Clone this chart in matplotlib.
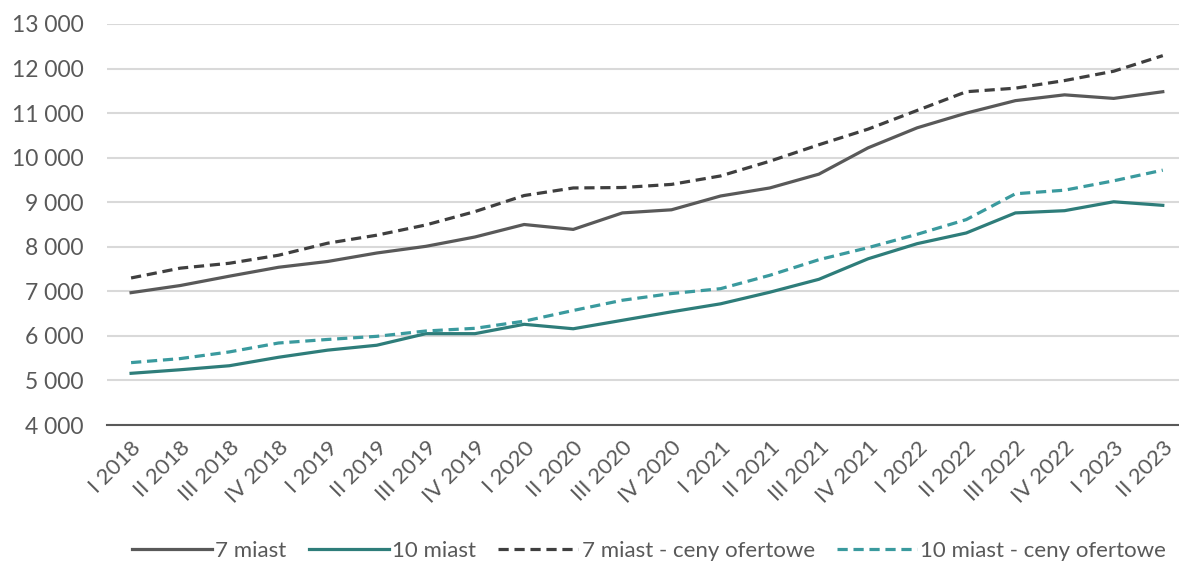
import matplotlib
matplotlib.use("Agg")
import matplotlib.pyplot as plt
from matplotlib.ticker import FuncFormatter

# quarters I 2018 .. II 2023
quarters = ["I 2018", "II 2018", "III 2018", "IV 2018",
            "I 2019", "II 2019", "III 2019", "IV 2019",
            "I 2020", "II 2020", "III 2020", "IV 2020",
            "I 2021", "II 2021", "III 2021", "IV 2021",
            "I 2022", "II 2022", "III 2022", "IV 2022",
            "I 2023", "II 2023"]

# average price per m2, PLN
miast7 = [6970, 7130, 7340, 7540, 7670, 7860, 8010, 8220, 8500, 8390, 8760,
          8830, 9140, 9320, 9630, 10220, 10670, 11000, 11280, 11410, 11330, 11480]
miast10 = [5160, 5240, 5330, 5520, 5680, 5790, 6050, 6050, 6260, 6160, 6350,
           6540, 6720, 6980, 7270, 7730, 8070, 8310, 8760, 8810, 9010, 8930]
miast7_ofert = [7300, 7520, 7630, 7810, 8080, 8260, 8490, 8790, 9150, 9320, 9330,
                9400, 9590, 9920, 10290, 10640, 11060, 11480, 11560, 11730, 11940, 12290]
miast10_ofert = [5400, 5490, 5640, 5840, 5920, 5990, 6110, 6170, 6330, 6570, 6800,
                 6950, 7060, 7360, 7710, 7980, 8280, 8610, 9190, 9270, 9480, 9720]

yticks = list(range(4000, 13001, 1000))

TXT = "#595959"
plt.rcParams["font.family"] = ["Lato", "DejaVu Sans"]

fig = plt.figure(figsize=(11.79, 5.63), dpi=100)
ax = fig.add_axes([107 / 1179, 138 / 563, 1072 / 1179, 401 / 563])

x = list(range(len(quarters)))
lw = 2.3
ax.plot(x, miast7, color="#595959", lw=lw, label="7 miast")
ax.plot(x, miast10, color="#2e7d7a", lw=lw, label="10 miast")
ax.plot(x, miast7_ofert, color="#3f3f3f", lw=lw, dashes=(3.2, 1.8),
        label="7 miast - ceny ofertowe")
ax.plot(x, miast10_ofert, color="#3a9a9e", lw=lw, dashes=(3.2, 1.8),
        label="10 miast - ceny ofertowe")

ax.set_xlim(-0.49, 21.33)
ax.set_ylim(4000, 13000)
ax.set_yticks(yticks)
ax.yaxis.set_major_formatter(FuncFormatter(lambda v, p: f"{int(v):,}".replace(",", " ")))
ax.set_xticks(x)
ax.set_xticklabels(quarters, rotation=45, ha="right", rotation_mode="anchor")

ax.grid(axis="y", color="#d9d9d9", lw=1.5)
ax.set_axisbelow(True)
for s in ["top", "right", "left"]:
    ax.spines[s].set_visible(False)
ax.spines["bottom"].set_color("#595959")
ax.spines["bottom"].set_linewidth(1.5)
ax.tick_params(axis="both", length=0, colors=TXT)
ax.tick_params(axis="y", pad=17, labelsize=16.5)
ax.tick_params(axis="x", pad=9, labelsize=16)

ax.legend(loc="center", bbox_to_anchor=(649 / 1179, 12 / 563),
          bbox_transform=fig.transFigure, ncol=4, frameon=False,
          fontsize=16, labelcolor=TXT, handlelength=3.6,
          handletextpad=0.15, columnspacing=1.0)

fig.savefig("out.png", dpi=100)
